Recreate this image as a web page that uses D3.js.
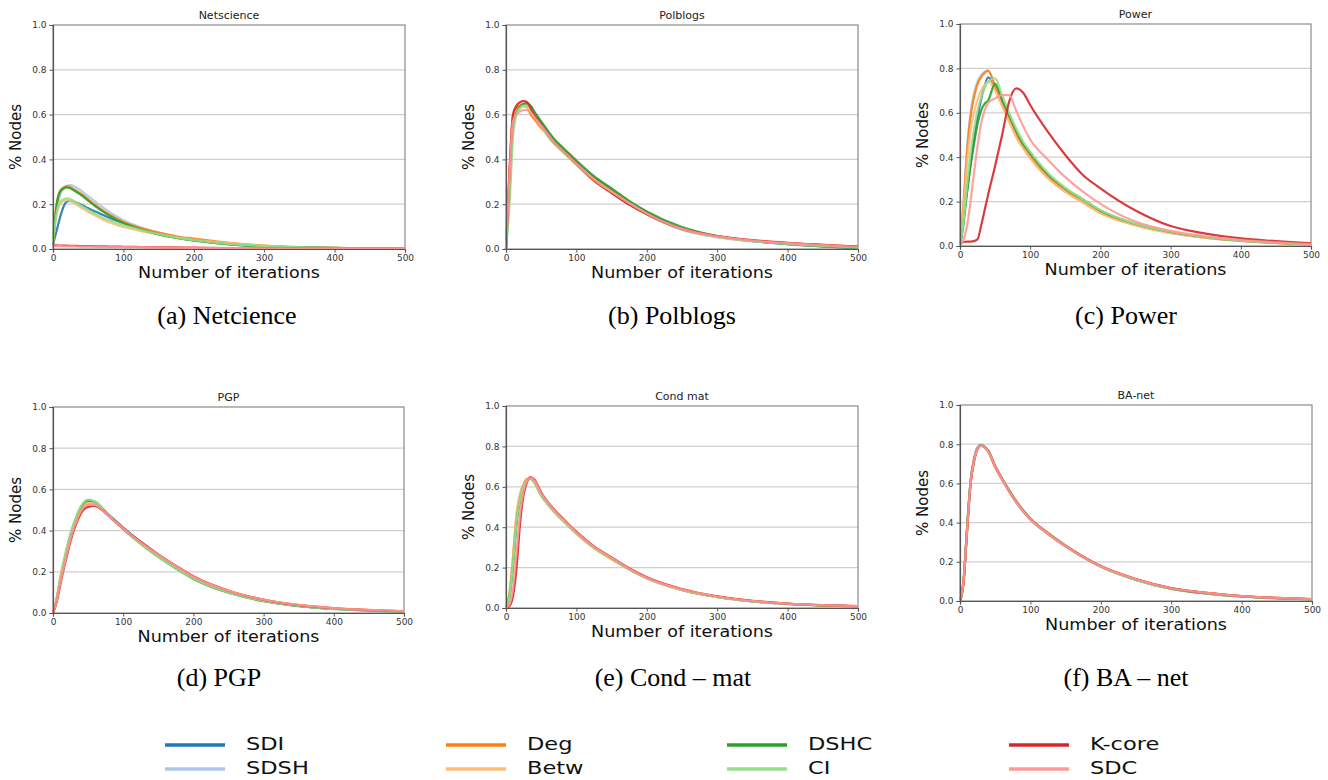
<!DOCTYPE html>
<html>
<head>
<meta charset="utf-8">
<script src="https://cdn.jsdelivr.net/npm/d3@7"></script>
<style>
  body { margin: 0; background: #fff; }
</style>
</head>
<body>
<svg class="chart" width="1328" height="780" font-family="DejaVu Sans, sans-serif"></svg>
<script>
// iteration grid shared by every series
const iterations = [0, 5, 10, 15, 20, 25, 30, 35, 40, 50, 60, 70, 80, 90, 100, 125, 150, 175, 200, 250, 300, 350, 400, 450, 500];
const methods = [`SDI`, `SDSH`, `Deg`, `Betw`, `DSHC`, `CI`, `K-core`, `SDC`];
const colors = [`#1f77b4`, `#aec7e8`, `#ff7f0e`, `#ffbb78`, `#2ca02c`, `#98df8a`, `#d62728`, `#ff9896`];
const yTicks = [0, 0.2, 0.4, 0.6, 0.8, 1.0];
const xTicks = [0, 100, 200, 300, 400, 500];
const titles = [`Netscience`, `Polblogs`, `Power`, `PGP`, `Cond mat`, `BA-net`];
const captions = [`(a) Netcience`, `(b) Polblogs`, `(c) Power`, `(d) PGP`, `(e) Cond – mat`, `(f) BA – net`];

// one row per method, in the order of `methods`
const netscience = [
  [0.02, 0.08, 0.14, 0.19, 0.212, 0.215, 0.21, 0.205, 0.198, 0.182, 0.167, 0.153, 0.14, 0.127, 0.115, 0.088, 0.068, 0.051, 0.039, 0.022, 0.012, 0.007, 0.004, 0.003, 0.002],
  [0.03, 0.17, 0.24, 0.27, 0.283, 0.285, 0.28, 0.27, 0.26, 0.236, 0.212, 0.188, 0.166, 0.146, 0.128, 0.096, 0.073, 0.056, 0.043, 0.025, 0.013, 0.008, 0.005, 0.003, 0.002],
  [0.03, 0.2, 0.26, 0.275, 0.28, 0.276, 0.266, 0.256, 0.246, 0.222, 0.197, 0.174, 0.154, 0.136, 0.121, 0.093, 0.073, 0.057, 0.046, 0.028, 0.015, 0.008, 0.005, 0.003, 0.002],
  [0.03, 0.15, 0.2, 0.214, 0.218, 0.214, 0.205, 0.195, 0.185, 0.166, 0.149, 0.133, 0.119, 0.107, 0.098, 0.08, 0.065, 0.052, 0.041, 0.026, 0.014, 0.008, 0.005, 0.003, 0.002],
  [0.03, 0.19, 0.255, 0.27, 0.275, 0.27, 0.261, 0.251, 0.241, 0.216, 0.191, 0.169, 0.149, 0.131, 0.116, 0.087, 0.065, 0.049, 0.037, 0.021, 0.011, 0.007, 0.005, 0.003, 0.002],
  [0.03, 0.16, 0.21, 0.222, 0.226, 0.222, 0.213, 0.203, 0.193, 0.174, 0.156, 0.141, 0.128, 0.116, 0.106, 0.085, 0.067, 0.051, 0.039, 0.023, 0.013, 0.007, 0.004, 0.003, 0.002],
  [0.016, 0.016, 0.015, 0.015, 0.015, 0.014, 0.014, 0.014, 0.013, 0.013, 0.012, 0.012, 0.011, 0.011, 0.01, 0.009, 0.008, 0.007, 0.006, 0.004, 0.003, 0.002, 0.001, 0.001, 0.0],
  [0.013, 0.013, 0.013, 0.012, 0.012, 0.012, 0.012, 0.011, 0.011, 0.011, 0.01, 0.01, 0.01, 0.009, 0.009, 0.008, 0.007, 0.006, 0.005, 0.004, 0.003, 0.002, 0.001, 0.001, 0.0]
];

const polblogs = [
  [0, 0.3, 0.56, 0.62, 0.64, 0.645, 0.645, 0.635, 0.61, 0.565, 0.52, 0.48, 0.45, 0.42, 0.39, 0.32, 0.265, 0.21, 0.163, 0.09, 0.055, 0.035, 0.022, 0.012, 0.005],
  [0, 0.3, 0.56, 0.62, 0.635, 0.64, 0.64, 0.63, 0.605, 0.56, 0.515, 0.475, 0.445, 0.415, 0.385, 0.31, 0.255, 0.2, 0.155, 0.085, 0.052, 0.035, 0.023, 0.014, 0.007],
  [0, 0.35, 0.6, 0.63, 0.64, 0.645, 0.635, 0.6, 0.58, 0.54, 0.51, 0.475, 0.445, 0.415, 0.385, 0.315, 0.26, 0.208, 0.16, 0.09, 0.056, 0.038, 0.026, 0.018, 0.01],
  [0, 0.33, 0.58, 0.62, 0.63, 0.635, 0.63, 0.615, 0.595, 0.55, 0.505, 0.47, 0.44, 0.41, 0.38, 0.31, 0.255, 0.205, 0.158, 0.09, 0.055, 0.037, 0.025, 0.016, 0.009],
  [0, 0.25, 0.54, 0.61, 0.635, 0.648, 0.65, 0.64, 0.615, 0.57, 0.525, 0.485, 0.455, 0.425, 0.395, 0.325, 0.27, 0.215, 0.168, 0.098, 0.058, 0.036, 0.022, 0.012, 0.004],
  [0, 0.2, 0.5, 0.6, 0.63, 0.64, 0.64, 0.625, 0.6, 0.55, 0.5, 0.465, 0.435, 0.405, 0.375, 0.305, 0.25, 0.2, 0.155, 0.088, 0.054, 0.035, 0.023, 0.014, 0.007],
  [0, 0.35, 0.6, 0.64, 0.655, 0.66, 0.655, 0.63, 0.6, 0.555, 0.51, 0.47, 0.44, 0.41, 0.38, 0.305, 0.25, 0.198, 0.155, 0.09, 0.058, 0.04, 0.028, 0.019, 0.011],
  [0, 0.33, 0.57, 0.6, 0.615, 0.62, 0.62, 0.61, 0.59, 0.55, 0.51, 0.47, 0.44, 0.41, 0.38, 0.31, 0.255, 0.205, 0.158, 0.09, 0.056, 0.038, 0.026, 0.017, 0.009]
];

const power = [
  [0, 0.12, 0.25, 0.37, 0.48, 0.58, 0.66, 0.72, 0.76, 0.72, 0.65, 0.575, 0.505, 0.45, 0.41, 0.315, 0.252, 0.202, 0.153, 0.097, 0.061, 0.039, 0.024, 0.014, 0.006],
  [0, 0.2, 0.44, 0.6, 0.69, 0.74, 0.77, 0.785, 0.79, 0.715, 0.64, 0.565, 0.5, 0.445, 0.4, 0.31, 0.248, 0.198, 0.15, 0.095, 0.06, 0.038, 0.024, 0.014, 0.006],
  [0, 0.18, 0.42, 0.58, 0.67, 0.73, 0.76, 0.78, 0.79, 0.72, 0.64, 0.57, 0.5, 0.445, 0.405, 0.31, 0.255, 0.2, 0.15, 0.095, 0.06, 0.038, 0.024, 0.014, 0.006],
  [0, 0.16, 0.37, 0.52, 0.6, 0.66, 0.7, 0.725, 0.74, 0.7, 0.63, 0.56, 0.49, 0.44, 0.395, 0.305, 0.243, 0.195, 0.148, 0.093, 0.058, 0.037, 0.023, 0.013, 0.006],
  [0, 0.1, 0.24, 0.36, 0.46, 0.55, 0.61, 0.64, 0.655, 0.73, 0.66, 0.59, 0.52, 0.46, 0.42, 0.325, 0.26, 0.21, 0.16, 0.1, 0.063, 0.04, 0.025, 0.015, 0.007],
  [0, 0.11, 0.27, 0.42, 0.53, 0.61, 0.67, 0.71, 0.74, 0.755, 0.68, 0.6, 0.53, 0.47, 0.425, 0.33, 0.262, 0.21, 0.162, 0.1, 0.064, 0.04, 0.025, 0.015, 0.007],
  [0.01, 0.018, 0.02, 0.02, 0.022, 0.03, 0.09, 0.16, 0.23, 0.36, 0.5, 0.65, 0.71, 0.69, 0.635, 0.515, 0.41, 0.32, 0.26, 0.16, 0.09, 0.056, 0.034, 0.022, 0.012],
  [0, 0.03, 0.09, 0.2, 0.33, 0.45, 0.55, 0.61, 0.645, 0.665, 0.68, 0.68, 0.61, 0.54, 0.48, 0.39, 0.31, 0.245, 0.19, 0.11, 0.068, 0.043, 0.027, 0.016, 0.008]
];

const pgp = [
  [0, 0.06, 0.15, 0.23, 0.3, 0.37, 0.425, 0.47, 0.505, 0.54, 0.535, 0.505, 0.475, 0.445, 0.415, 0.345, 0.282, 0.225, 0.172, 0.104, 0.06, 0.035, 0.021, 0.013, 0.007],
  [0, 0.06, 0.15, 0.235, 0.305, 0.37, 0.425, 0.47, 0.505, 0.535, 0.53, 0.5, 0.47, 0.44, 0.41, 0.34, 0.278, 0.222, 0.17, 0.102, 0.06, 0.035, 0.021, 0.013, 0.007],
  [0, 0.065, 0.16, 0.24, 0.31, 0.38, 0.43, 0.47, 0.5, 0.53, 0.525, 0.5, 0.47, 0.44, 0.41, 0.34, 0.28, 0.225, 0.175, 0.108, 0.064, 0.038, 0.023, 0.014, 0.008],
  [0, 0.07, 0.17, 0.25, 0.32, 0.385, 0.435, 0.475, 0.505, 0.535, 0.525, 0.5, 0.47, 0.438, 0.408, 0.338, 0.278, 0.223, 0.172, 0.105, 0.063, 0.037, 0.022, 0.014, 0.008],
  [0, 0.06, 0.15, 0.235, 0.31, 0.38, 0.435, 0.48, 0.515, 0.548, 0.54, 0.51, 0.475, 0.44, 0.408, 0.335, 0.272, 0.216, 0.165, 0.098, 0.057, 0.033, 0.02, 0.012, 0.006],
  [0, 0.065, 0.16, 0.245, 0.32, 0.385, 0.44, 0.485, 0.52, 0.55, 0.54, 0.51, 0.475, 0.44, 0.408, 0.335, 0.273, 0.218, 0.167, 0.1, 0.059, 0.034, 0.02, 0.012, 0.007],
  [0, 0.05, 0.13, 0.21, 0.28, 0.35, 0.405, 0.45, 0.485, 0.515, 0.52, 0.5, 0.47, 0.44, 0.41, 0.345, 0.285, 0.23, 0.178, 0.108, 0.064, 0.038, 0.023, 0.014, 0.008],
  [0, 0.055, 0.14, 0.22, 0.29, 0.36, 0.415, 0.46, 0.495, 0.525, 0.525, 0.5, 0.47, 0.44, 0.41, 0.342, 0.283, 0.228, 0.176, 0.108, 0.065, 0.039, 0.024, 0.015, 0.009]
];

const condMat = [
  [0, 0.06, 0.22, 0.43, 0.54, 0.6, 0.635, 0.64, 0.625, 0.56, 0.515, 0.475, 0.44, 0.405, 0.372, 0.3, 0.245, 0.192, 0.148, 0.09, 0.055, 0.033, 0.02, 0.013, 0.008],
  [0, 0.07, 0.24, 0.45, 0.555, 0.61, 0.638, 0.64, 0.622, 0.556, 0.51, 0.47, 0.435, 0.4, 0.368, 0.297, 0.242, 0.19, 0.146, 0.088, 0.054, 0.033, 0.02, 0.013, 0.008],
  [0, 0.07, 0.25, 0.46, 0.56, 0.615, 0.64, 0.642, 0.625, 0.56, 0.514, 0.474, 0.438, 0.404, 0.372, 0.3, 0.245, 0.193, 0.149, 0.09, 0.055, 0.034, 0.021, 0.013, 0.008],
  [0, 0.08, 0.26, 0.47, 0.565, 0.615, 0.638, 0.64, 0.62, 0.555, 0.508, 0.468, 0.433, 0.4, 0.367, 0.295, 0.24, 0.19, 0.146, 0.088, 0.054, 0.033, 0.02, 0.013, 0.008],
  [0, 0.06, 0.21, 0.42, 0.535, 0.598, 0.632, 0.64, 0.626, 0.562, 0.516, 0.476, 0.44, 0.406, 0.374, 0.302, 0.247, 0.194, 0.15, 0.091, 0.056, 0.034, 0.021, 0.013, 0.008],
  [0, 0.06, 0.22, 0.43, 0.54, 0.6, 0.633, 0.638, 0.622, 0.556, 0.51, 0.47, 0.436, 0.402, 0.37, 0.298, 0.243, 0.191, 0.147, 0.089, 0.054, 0.033, 0.02, 0.013, 0.008],
  [0, 0.01, 0.06, 0.2, 0.42, 0.56, 0.625, 0.648, 0.637, 0.572, 0.522, 0.482, 0.446, 0.411, 0.378, 0.305, 0.25, 0.197, 0.152, 0.094, 0.058, 0.036, 0.022, 0.014, 0.009],
  [0, 0.02, 0.1, 0.28, 0.47, 0.58, 0.63, 0.645, 0.632, 0.566, 0.518, 0.478, 0.442, 0.408, 0.375, 0.303, 0.248, 0.195, 0.15, 0.092, 0.057, 0.035, 0.022, 0.014, 0.009]
];

const baNet = [
  [0, 0.1, 0.37, 0.61, 0.725, 0.783, 0.797, 0.787, 0.766, 0.686, 0.62, 0.56, 0.505, 0.458, 0.417, 0.343, 0.28, 0.224, 0.176, 0.109, 0.064, 0.04, 0.024, 0.015, 0.009],
  [0, 0.11, 0.38, 0.615, 0.728, 0.785, 0.798, 0.788, 0.766, 0.685, 0.618, 0.558, 0.503, 0.456, 0.415, 0.342, 0.279, 0.223, 0.175, 0.108, 0.063, 0.039, 0.024, 0.015, 0.009],
  [0, 0.1, 0.365, 0.605, 0.72, 0.778, 0.793, 0.784, 0.764, 0.684, 0.619, 0.559, 0.504, 0.457, 0.416, 0.343, 0.279, 0.224, 0.176, 0.11, 0.065, 0.041, 0.025, 0.015, 0.009],
  [0, 0.1, 0.36, 0.6, 0.716, 0.776, 0.792, 0.783, 0.763, 0.683, 0.618, 0.558, 0.503, 0.456, 0.415, 0.342, 0.278, 0.223, 0.175, 0.11, 0.065, 0.041, 0.025, 0.016, 0.01],
  [0, 0.1, 0.365, 0.607, 0.72, 0.78, 0.795, 0.786, 0.767, 0.689, 0.624, 0.564, 0.509, 0.462, 0.421, 0.347, 0.282, 0.226, 0.177, 0.108, 0.062, 0.038, 0.023, 0.014, 0.008],
  [0, 0.1, 0.36, 0.6, 0.717, 0.778, 0.794, 0.785, 0.766, 0.688, 0.623, 0.563, 0.508, 0.461, 0.42, 0.346, 0.281, 0.225, 0.176, 0.108, 0.063, 0.039, 0.023, 0.014, 0.008],
  [0, 0.09, 0.35, 0.595, 0.713, 0.775, 0.792, 0.784, 0.765, 0.686, 0.621, 0.561, 0.506, 0.459, 0.418, 0.345, 0.281, 0.226, 0.178, 0.112, 0.066, 0.041, 0.025, 0.016, 0.01],
  [0, 0.095, 0.355, 0.6, 0.715, 0.776, 0.792, 0.784, 0.764, 0.685, 0.62, 0.56, 0.505, 0.458, 0.417, 0.344, 0.28, 0.225, 0.177, 0.111, 0.065, 0.041, 0.025, 0.016, 0.01]
];

const datasets = [netscience, polblogs, power, pgp, condMat, baNet];

// plot boxes: left, right, top, bottom  (layout only)
const boxes = [
  [53, 405, 25, 249],
  [506, 858, 25, 249],
  [960, 1311, 24, 246],
  [53, 404, 407, 613],
  [506, 858, 406, 608],
  [960, 1312, 405, 601]
];
const captionPos = [[227, 324], [672, 324], [1126, 324], [219, 686], [673, 686], [1126, 686]];

const svg = d3.select(`.chart`);

const drawPanel = (i) => {
  const [left, right, top, bottom] = boxes[i];
  const x = d3.scaleLinear().domain([0, 500]).range([left, right]);
  const y = d3.scaleLinear().domain([0, 1]).range([bottom, top]);
  const g = svg.append(`g`).attr(`class`, `panel`);

  // grid
  g.selectAll(`.grid`)
    .data(yTicks.filter(d => d > 0 && d < 1))
    .enter().append(`line`)
    .attr(`x1`, left).attr(`x2`, right)
    .attr(`y1`, d => y(d)).attr(`y2`, d => y(d))
    .attr(`stroke`, `#cfcfcf`)
    .attr(`stroke-width`, 1.2);

  // frame
  g.append(`rect`)
    .attr(`x`, left).attr(`y`, top)
    .attr(`width`, right - left).attr(`height`, bottom - top)
    .attr(`fill`, `none`)
    .attr(`stroke`, `#8a8a8a`)
    .attr(`stroke-width`, 1.2);

  const line = d3.line()
    .x((d, k) => x(iterations[k]))
    .y(d => y(d))
    .curve(d3.curveMonotoneX);

  const lines = g.append(`g`);
  datasets[i].forEach((series, s) => {
    lines.append(`path`)
      .datum(series)
      .attr(`d`, line)
      .attr(`fill`, `none`)
      .attr(`stroke`, colors[s])
      .attr(`stroke-width`, 2.2)
      .attr(`stroke-linejoin`, `round`)
      .attr(`opacity`, 0.9);
  });

  const yAxis = g.append(`g`)
    .attr(`transform`, `translate(${left},0)`)
    .call(d3.axisLeft(y).tickValues(yTicks).tickFormat(d3.format(`.1f`)).tickSize(3.5).tickPadding(3));
  const xAxis = g.append(`g`)
    .attr(`transform`, `translate(0,${bottom})`)
    .call(d3.axisBottom(x).tickValues(xTicks).tickSize(3.5).tickPadding(2));

  [yAxis, xAxis].forEach(a => {
    a.select(`.domain`).attr(`stroke`, `#555`).attr(`stroke-width`, 1.2);
    a.selectAll(`.tick line`).attr(`stroke`, `#555`);
    a.selectAll(`.tick text`)
      .attr(`fill`, `#333`)
      .attr(`font-size`, `9px`)
      .attr(`font-family`, `DejaVu Sans`);
  });

  const cx = (left + right) / 2;
  g.append(`text`)
    .attr(`x`, cx).attr(`y`, top - 6)
    .attr(`text-anchor`, `middle`)
    .attr(`font-size`, `11px`)
    .attr(`fill`, `#222`)
    .text(titles[i]);

  const xLabel = `Number of iterations`;
  g.append(`text`)
    .attr(`x`, cx).attr(`y`, bottom + 29)
    .attr(`text-anchor`, `middle`)
    .attr(`font-size`, `15px`)
    .attr(`fill`, `#111`)
    .attr(`textLength`, 182)
    .attr(`lengthAdjust`, `spacingAndGlyphs`)
    .text(xLabel);

  g.append(`text`)
    .attr(`transform`, `translate(${left - 32},${(top + bottom) / 2}) rotate(-90)`)
    .attr(`text-anchor`, `middle`)
    .attr(`font-size`, `15px`)
    .attr(`fill`, `#111`)
    .text(`% Nodes`);

  g.append(`text`)
    .attr(`x`, captionPos[i][0]).attr(`y`, captionPos[i][1])
    .attr(`text-anchor`, `middle`)
    .attr(`font-family`, `Liberation Serif, Times New Roman, serif`)
    .attr(`font-size`, `26px`)
    .attr(`fill`, `#000`)
    .text(captions[i]);
};

datasets.forEach((d, i) => drawPanel(i));

// legend: 4 columns x 2 rows
const legendCols = [165, 446, 727, 1009];
const legendRows = [745, 769];
const legend = svg.append(`g`).attr(`class`, `legend`);
methods.forEach((m, i) => {
  const col = Math.floor(i / 2);
  const row = i % 2;
  const lx = legendCols[col];
  const ly = legendRows[row];
  legend.append(`line`)
    .attr(`x1`, lx).attr(`x2`, lx + 60)
    .attr(`y1`, ly).attr(`y2`, ly)
    .attr(`stroke`, colors[i])
    .attr(`stroke-width`, 3.5);
  const label = legend.append(`text`)
    .attr(`transform`, `translate(${lx + 81},${ly + 5})`)
    .attr(`font-size`, `18px`)
    .attr(`fill`, `#111`)
    .text(m);
  // the source legend is drawn wider than the font, so stretch it a bit
  const w = label.node().getComputedTextLength();
  label.attr(`textLength`, w * 1.25).attr(`lengthAdjust`, `spacingAndGlyphs`);
});
</script>
</body>
</html>
